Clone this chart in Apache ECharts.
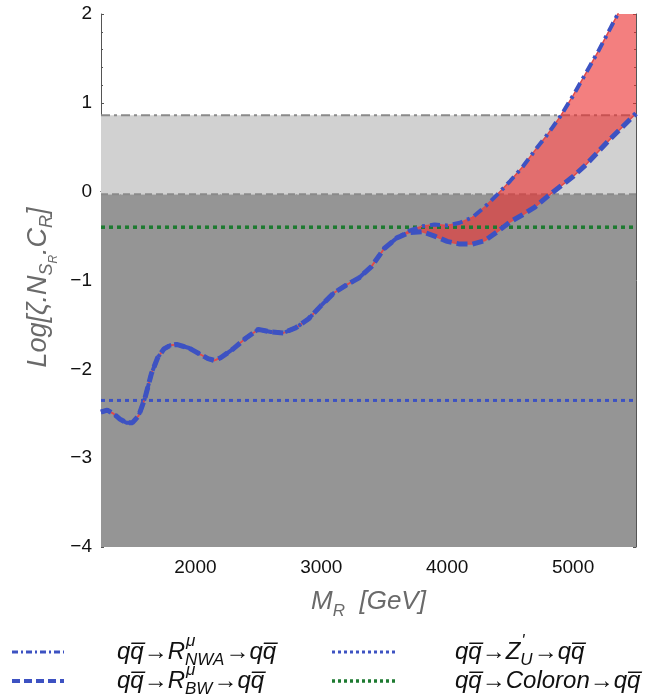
<!DOCTYPE html>
<html><head><meta charset="utf-8">
<script src="https://cdn.jsdelivr.net/npm/echarts@6/dist/echarts.min.js"></script>
<style>html,body{margin:0;padding:0;background:#fff}#c{width:655px;height:700px}</style>
</head><body><div id="c"></div>
<script>
// ---- data ----
const massGeV = [1250,1300,1350,1400,1450,1500,1550,1600,1650,1700,1750,1800,1850,1900,1950,2000,2100,2150,2200,2300,2400,2500,2600,2700,2800,2900,3000,3100,3200,3300,3400,3500,3600,3700,3800,3900,4000,4100,4200,4300,4400,4500,4600,4700,4800,4900,5000,5100,5200,5300,5400,5500];
const nwaLog = [-2.48,-2.46,-2.50,-2.56,-2.60,-2.60,-2.52,-2.32,-2.05,-1.87,-1.77,-1.73,-1.72,-1.74,-1.76,-1.80,-1.88,-1.90,-1.87,-1.77,-1.65,-1.55,-1.58,-1.59,-1.53,-1.43,-1.28,-1.14,-1.05,-0.97,-0.84,-0.64,-0.52,-0.44,-0.39,-0.37,-0.38,-0.35,-0.29,-0.17,-0.03,0.12,0.28,0.47,0.65,0.85,1.08,1.33,1.58,1.85,2.12,2.40];
const bwLog  = [-2.48,-2.46,-2.50,-2.56,-2.60,-2.60,-2.52,-2.32,-2.05,-1.87,-1.77,-1.73,-1.72,-1.74,-1.76,-1.80,-1.88,-1.90,-1.87,-1.77,-1.65,-1.55,-1.58,-1.59,-1.53,-1.43,-1.28,-1.14,-1.05,-0.97,-0.84,-0.64,-0.52,-0.46,-0.45,-0.50,-0.56,-0.59,-0.59,-0.55,-0.45,-0.34,-0.26,-0.17,-0.05,0.06,0.17,0.30,0.45,0.60,0.74,0.88];
const zPrimeLevel = -2.35;
const coloronLevel = -0.40;
const lowerBandTop = -0.03;
const upperBandTop = 0.86;
const xRange = [1250, 5500];
const yRange = [-4, 2];
const xTickLabels = [2000, 3000, 4000, 5000];
const xMinorTicks = [1400,1600,1800,2000,2200,2400,2600,2800,3000,3200,3400,3600,3800,4000,4200,4400,4600,4800,5000,5200,5400];

// ---- derived ----
const nwaPts = massGeV.map((m,i)=>[m,nwaLog[i]]);
const bwPts = massGeV.map((m,i)=>[m,bwLog[i]]);
const hline = v => [[xRange[0],v],[xRange[1],v]];

const BLUE = '#3d52c2';
const GREEN = '#1d7a30';
const FONT = '"Liberation Sans", Arial, "DejaVu Sans", sans-serif';
const NAMECOL = '#6a6a6a';

const chart = echarts.init(document.getElementById('c'), null, {renderer:'canvas'});

// legend text builder (graphic)
const ctx = document.createElement('canvas').getContext('2d');
function w(t, size){ ctx.font = 'italic ' + size + 'px ' + FONT; return ctx.measureText(t).width; }
const QB = 'q\u0305';
const LS = 24, SS = 17;
function legendText(x, y, tokens){
  const els = [];
  let cx = x;
  tokens.forEach(tk=>{
    if (tk.t !== undefined){
      els.push({type:'text', x:cx, y:y, style:{text:tk.t, font:'italic '+LS+'px '+FONT, fill:'#111', verticalAlign:'middle', textVerticalAlign:'middle'}});
      cx += w(tk.t, LS);
    } else {
      els.push({type:'text', x:cx+1, y:y-11, style:{text:tk.sup, font:'italic '+SS+'px '+FONT, fill:'#111', verticalAlign:'middle', textVerticalAlign:'middle'}});
      els.push({type:'text', x:cx, y:y+8, style:{text:tk.sub, font:'italic '+SS+'px '+FONT, fill:'#111', verticalAlign:'middle', textVerticalAlign:'middle'}});
      cx += Math.max(w(tk.sup,SS), w(tk.sub,SS)) + 1;
    }
  });
  return els;
}
function legendLine(x1, x2, y, color, width, dash){
  return {type:'line', shape:{x1:x1, y1:y, x2:x2, y2:y}, style:{stroke:color, lineWidth:width, lineDash:dash}};
}
const row1 = 652, row2 = 681;
const graphics = [].concat(
  [legendLine(12, 64, row1, BLUE, 3, [6,3,2,3])],
  legendText(117, row1, [{t:'q'+QB+'\u2192R'},{sup:'\u03bc', sub:'NWA'},{t:'\u2192q'+QB}]),
  [legendLine(12, 64, row2, BLUE, 4, [8,4])],
  legendText(117, row2, [{t:'q'+QB+'\u2192R'},{sup:'\u03bc', sub:'BW'},{t:'\u2192q'+QB}]),
  [legendLine(332, 397, row1, BLUE, 3, [3,3])],
  legendText(455, row1, [{t:'q'+QB+'\u2192Z'},{sup:"'", sub:'U'},{t:'\u2192q'+QB}]),
  [legendLine(332, 397, row2, GREEN, 3.5, [3,3])],
  legendText(455, row2, [{t:'q'+QB+'\u2192Coloron\u2192q'+QB}])
);

const axisLineStyle = {show:true, lineStyle:{color:'#555', width:1}};
const tickStyle = {show:true, inside:true, length:3, lineStyle:{color:'#555', width:1}};

chart.setOption({
  animation:false,
  backgroundColor:'#fff',
  grid:{left:101, right:19, top:14, bottom:153, show:false},
  xAxis:[
    {type:'value', min:xRange[0], max:xRange[1], position:'bottom',
     axisLine:axisLineStyle, axisTick:Object.assign({customValues:xMinorTicks}, tickStyle),
     axisLabel:{customValues:xTickLabels, fontSize:19, color:'#111', fontFamily:FONT, margin:11, formatter:v=>String(v)},
     splitLine:{show:false},
     name:'{a|M}{b|R}{a|  [GeV]}', nameLocation:'middle', nameGap:36,
     nameTextStyle:{rich:{a:{fontSize:26, fontStyle:'italic', color:NAMECOL, fontFamily:FONT, lineHeight:32, verticalAlign:'bottom'},
                          b:{fontSize:17, fontStyle:'italic', color:NAMECOL, fontFamily:FONT, lineHeight:32, verticalAlign:'bottom', padding:[0,0,-5,0]}}}},
    {type:'value', min:xRange[0], max:xRange[1], position:'top',
     axisLine:axisLineStyle, axisTick:Object.assign({customValues:xMinorTicks}, tickStyle),
     axisLabel:{show:false}, splitLine:{show:false}}
  ],
  yAxis:[
    {type:'value', min:yRange[0], max:yRange[1], interval:1, position:'left',
     axisLine:axisLineStyle, axisTick:tickStyle,
     minorTick:{show:true, splitNumber:5, length:2, lineStyle:{color:'#555'}},
     axisLabel:{fontSize:19, color:'#111', fontFamily:FONT, margin:9, formatter:v=>String(v).replace('-','\u2212')},
     splitLine:{show:false},
     name:'{a|Log[\u03b6.N}{b|S}{c|R}{a|.C}{b|R}{a|]}', nameLocation:'middle', nameGap:41, nameRotate:90,
     nameTextStyle:{padding:[0,0,0,-14], rich:{
       a:{fontSize:27, fontStyle:'italic', color:NAMECOL, fontFamily:FONT, lineHeight:35, verticalAlign:'bottom', padding:[0,0,4,0]},
       b:{fontSize:18, fontStyle:'italic', color:NAMECOL, fontFamily:FONT, lineHeight:35, verticalAlign:'bottom'},
       c:{fontSize:12, fontStyle:'italic', color:NAMECOL, fontFamily:FONT, lineHeight:35, verticalAlign:'bottom', padding:[0,0,-3,0]}}}},
    {type:'value', min:yRange[0], max:yRange[1], interval:1, position:'right',
     axisLine:axisLineStyle, axisTick:tickStyle,
     minorTick:{show:true, splitNumber:5, length:2, lineStyle:{color:'#555'}},
     axisLabel:{show:false}, splitLine:{show:false}}
  ],
  graphic: graphics,
  series:[
    {type:'line', name:'lowerBoundary', data:hline(lowerBandTop), symbol:'none', z:1, silent:true,
     lineStyle:{color:'#8a8a8a', width:2, type:[7,4]},
     markArea:{silent:true, data:[
       [{yAxis:yRange[0], itemStyle:{color:'#959595'}},{yAxis:lowerBandTop}],
       [{yAxis:lowerBandTop, itemStyle:{color:'#d1d1d1'}},{yAxis:upperBandTop}]
     ]}},
    {type:'line', name:'upperBoundary', data:hline(upperBandTop), symbol:'none', z:1, silent:true,
     lineStyle:{color:'#8a8a8a', width:2, type:[9,4,3,4]}},
    {type:'custom', name:'band', z:2, silent:true, clip:true, data:[[xRange[0], yRange[0]]],
     renderItem:function(params, api){
       const up = massGeV.map((m,i)=>api.coord([m,nwaLog[i]]));
       const lo = massGeV.map((m,i)=>api.coord([m,bwLog[i]])).reverse();
       const cs = params.coordSys;
       return {type:'polygon', shape:{points:up.concat(lo)},
               style:{fill:'rgba(236,48,48,0.62)'},
               clipPath:{type:'rect', shape:{x:cs.x, y:cs.y, width:cs.width, height:cs.height}}};
     }},
    {type:'line', name:'Zprime', data:hline(zPrimeLevel), symbol:'none', z:3,
     lineStyle:{color:BLUE, width:3, type:[4,4]}},
    {type:'line', name:'Coloron', data:hline(coloronLevel), symbol:'none', z:3,
     lineStyle:{color:GREEN, width:3.5, type:[4,4]}},
    {type:'line', name:'nwaRed', data:nwaPts, symbol:'none', z:4,
     lineStyle:{color:'#e04a4a', width:1.5}},
    {type:'line', name:'bwRed', data:bwPts, symbol:'none', z:4,
     lineStyle:{color:'#e04a4a', width:1.5}},
    {type:'line', name:'NWA', data:nwaPts, symbol:'none', z:5,
     lineStyle:{color:BLUE, width:4, type:[10,5,3,5]}},
    {type:'line', name:'BW', data:bwPts, symbol:'none', z:5,
     lineStyle:{color:BLUE, width:5, type:[11,5]}}
  ]
});
</script></body></html>
